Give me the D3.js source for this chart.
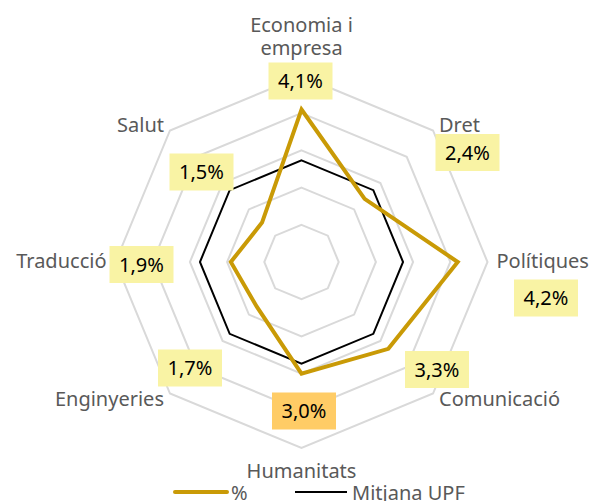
<!DOCTYPE html>
<html>
<head>
<meta charset="utf-8">
<script src="https://cdn.jsdelivr.net/npm/d3@7"></script>
<style>
  body { margin: 0; background: #fff; }
  svg text { font-family: "Noto Sans", "Open Sans", sans-serif; }
</style>
</head>
<body>
<div id="chart"></div>
<script>
// Radar chart: percentatge per àmbit vs mitjana UPF

const categories = ['Economia i empresa', 'Dret', 'Polítiques', 'Comunicació', 'Humanitats', 'Enginyeries', 'Traducció', 'Salut'];
const pctValues = [4.1, 2.4, 4.2, 3.3, 3.0, 1.7, 1.9, 1.5];
const upfValues = [2.73, 2.73, 2.73, 2.73, 2.73, 2.73, 2.73, 2.73];
const ringTicks = [1, 2, 3, 4, 5];
const seriesNames = ['%', 'Mitjana UPF'];

const CONFIG = {
  width: 592,
  height: 501,
  cx: 301.5,
  cy: 262,
  radius: 186,
  gold: '#C99A06',
  grid: '#D9D9D9',
  textGray: '#595959',
  boxFill: '#F9F3A4',
  boxHighlight: '#FFCC66',
  fontSize: 20,
};

// category label placement (anchor, dx, dy from outer vertex)
const catLayout = [
  { anchor: 'middle', dx: 0, dy: -44, lines: ['Economia i', 'empresa'] },
  { anchor: 'start', dx: 6, dy: 2 },
  { anchor: 'start', dx: 9, dy: 6 },
  { anchor: 'start', dx: 6, dy: 12 },
  { anchor: 'middle', dx: 0, dy: 30 },
  { anchor: 'end', dx: -6, dy: 12 },
  { anchor: 'end', dx: -9, dy: 6 },
  { anchor: 'end', dx: -6, dy: 2 },
];

// value label box centres relative to chart centre
const boxLayout = [
  [-1, -181], [166, -109.5], [244.5, 36], [135.5, 107.5],
  [2.5, 149], [-111.5, 106], [-160, 2.5], [-100, -90],
];

function initRadar() {
  const container = d3.select('#chart');
  container.html('');

  const svg = container
    .append('svg')
    .attr('width', CONFIG.width)
    .attr('height', CONFIG.height);

  const g = svg.append('g')
    .attr('transform', `translate(${CONFIG.cx},${CONFIG.cy})`);

  const r = d3.scaleLinear().domain([0, 5]).range([0, CONFIG.radius]);
  const angle = d3.scaleBand()
    .domain(categories)
    .range([0, 2 * Math.PI])
    .padding(0);

  const radial = d3.lineRadial()
    .angle((d, i) => angle(categories[i]))
    .radius((d) => r(d))
    .curve(d3.curveLinearClosed);

  // grid rings
  g.selectAll('.ring')
    .data(ringTicks)
    .join('path')
    .attr('class', 'ring')
    .attr('d', (t) => radial(categories.map(() => t)))
    .attr('fill', 'none')
    .attr('stroke', CONFIG.grid)
    .attr('stroke-width', 2);

  // mitjana UPF
  g.append('path')
    .attr('d', radial(upfValues))
    .attr('fill', 'none')
    .attr('stroke', '#000')
    .attr('stroke-width', 2);

  // % series
  g.append('path')
    .attr('d', radial(pctValues))
    .attr('fill', 'none')
    .attr('stroke', CONFIG.gold)
    .attr('stroke-width', 4)
    .attr('stroke-linejoin', 'miter');

  // category labels
  categories.forEach((c, i) => {
    const a = angle(c);
    const x = Math.sin(a) * r(5) + catLayout[i].dx;
    const y = -Math.cos(a) * r(5) + catLayout[i].dy;
    const lines = catLayout[i].lines || [c];
    const t = g.append('text')
      .attr('x', x)
      .attr('y', y)
      .attr('text-anchor', catLayout[i].anchor)
      .attr('fill', CONFIG.textGray)
      .attr('font-size', CONFIG.fontSize);
    lines.forEach((ln, k) => {
      t.append('tspan')
        .attr('x', x)
        .attr('dy', k === 0 ? 0 : 23)
        .text(ln);
    });
  });

  // value boxes
  const fmt = (v) => d3.format('.1f')(v).replace('.', ',') + '%';
  const maxIdx = categories.indexOf('Humanitats');
  pctValues.forEach((v, i) => {
    const [bx, by] = boxLayout[i];
    g.append('rect')
      .attr('x', bx - 32)
      .attr('y', by - 18.5)
      .attr('width', 64)
      .attr('height', 37)
      .attr('fill', i === maxIdx ? CONFIG.boxHighlight : CONFIG.boxFill);
    g.append('text')
      .attr('x', bx)
      .attr('y', by + 7)
      .attr('text-anchor', 'middle')
      .attr('fill', '#000')
      .attr('font-size', CONFIG.fontSize)
      .text(fmt(v));
  });

  // legend
  const legend = svg.append('g').attr('transform', 'translate(0,492)');
  legend.append('line')
    .attr('x1', 175).attr('x2', 227)
    .attr('stroke', CONFIG.gold).attr('stroke-width', 4)
    .attr('stroke-linecap', 'round');
  legend.append('text')
    .attr('x', 231).attr('y', 8)
    .attr('fill', CONFIG.textGray).attr('font-size', CONFIG.fontSize)
    .text(seriesNames[0]);
  legend.append('line')
    .attr('x1', 295).attr('x2', 347)
    .attr('stroke', '#000').attr('stroke-width', 2);
  legend.append('text')
    .attr('x', 352).attr('y', 8)
    .attr('fill', CONFIG.textGray).attr('font-size', CONFIG.fontSize)
    .text(seriesNames[1]);
}

initRadar();
</script>
</body>
</html>
